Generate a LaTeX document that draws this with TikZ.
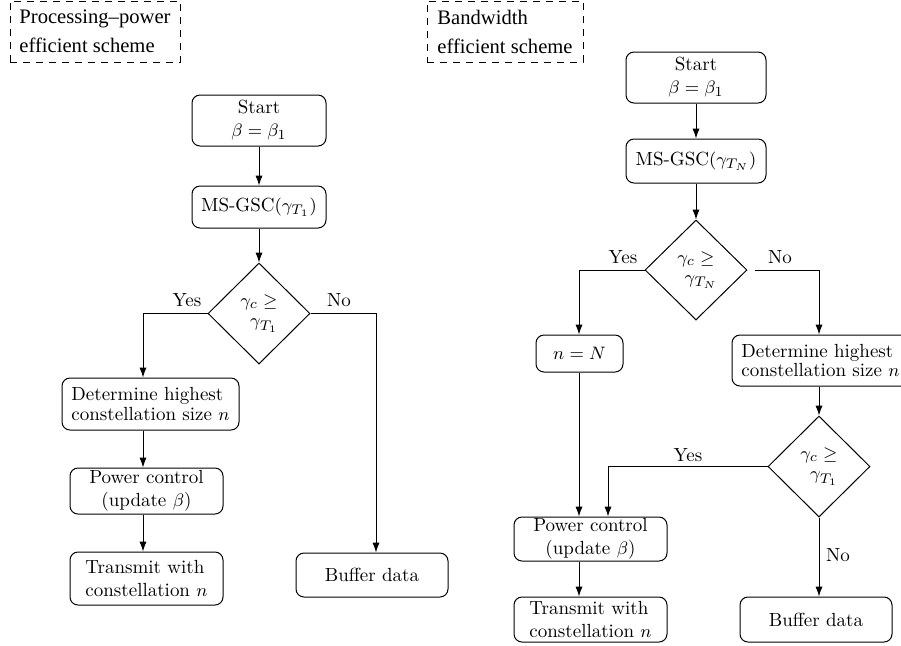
\documentclass[tikz,border=0pt]{standalone}
\usepackage{fontspec}
\newfontfamily\lblfont{Liberation Serif}
\usetikzlibrary{shapes.geometric,arrows.meta}
\begin{document}
\begin{tikzpicture}[x=0.5pt,y=-0.5pt,
 box/.style={draw,rectangle,rounded corners=4pt,line width=0.5pt,inner sep=0pt,align=center,font=\fontsize{9.5}{11.5}\selectfont},
 dec/.style={draw,diamond,aspect=1,line width=0.5pt,inner sep=0pt,align=center,font=\fontsize{9.5}{10}\selectfont},
 arr/.style={-{Latex[length=5pt,width=3.6pt]},line width=0.5pt},
 lbl/.style={font=\fontsize{9.5}{9.5}\selectfont,inner sep=0pt},
 tag/.style={draw,dash pattern=on 3.5pt off 3pt,line width=0.5pt,inner sep=0pt,align=left,font=\lblfont\fontsize{10.3}{14.5}\selectfont}]
\useasboundingbox (0,0) rectangle (901,645);
% tags
\node[tag,minimum width=85pt,minimum height=30.5pt] (t1) at (95,31.5) {Processing–power\\efficient scheme};
\node[tag,minimum width=78pt,minimum height=30.5pt] (t2) at (505,31.5) {Bandwidth\\efficient scheme};
% left chart
\node[box,minimum width=67pt,minimum height=25.5pt] (s1) at (259,120.5) {Start\\$\beta=\beta_1$};
\node[box,minimum width=67pt,minimum height=21pt] (m1) at (259,207) {MS-GSC$(\gamma_{T_1})$};
\node[dec,minimum width=51pt,minimum height=50.5pt] (d1) at (259,313.5) {$\gamma_c\geq$\\$\;\;\gamma_{T_1}$};
\node[box,align=left,font=\fontsize{9.5}{9.5}\selectfont,minimum width=88.5pt,minimum height=26pt] (det1) at (150.5,404) {Determine highest\\constellation size $n$};
\node[box,minimum width=76.5pt,minimum height=23pt] (pc1) at (146.5,491) {Power control\\(update $\beta$)};
\node[box,align=left,minimum width=76.5pt,minimum height=26.5pt] (tx1) at (146.5,578.5) {Transmit with\\constellation $n$};
\node[box,minimum width=76pt,minimum height=22pt] (bf1) at (372,575) {Buffer data};
\coordinate (y1) at (143,313.5);
\coordinate (n1) at (376,313.5);
\draw[arr] (s1) -- (m1);
\draw[arr] (m1) -- (d1);
\draw[arr] (d1.west) -- (y1) -- (y1 |- det1.north);
\draw[arr] (d1.east) -- (n1) -- (n1 |- bf1.north);
\draw[arr] (y1 |- det1.south) -- (y1 |- pc1.north);
\draw[arr] (y1 |- pc1.south) -- (y1 |- tx1.north);
\node[lbl] at (187,300) {Yes};
\node[lbl] at (339,300) {No};
% right chart
\node[box,minimum width=70pt,minimum height=25.5pt] (s2) at (696,77.5) {Start\\$\beta=\beta_1$};
\node[box,minimum width=70pt,minimum height=22pt] (m2) at (696,161) {MS-GSC$(\gamma_{T_N})$};
\node[dec,minimum width=51pt,minimum height=50pt] (d2) at (696,270) {$\gamma_c\geq$\\$\;\;\gamma_{T_N}$};
\node[box,minimum width=43.5pt,minimum height=18.5pt] (nN) at (579.5,353.5) {$n=N$};
\node[box,align=left,font=\fontsize{9.5}{9.5}\selectfont,minimum width=88.5pt,minimum height=25.5pt] (det2) at (820.5,360.5) {Determine highest\\constellation size $n$};
\node[dec,minimum width=51pt,minimum height=50.5pt] (d3) at (819,466.5) {$\gamma_c\geq$\\$\;\;\gamma_{T_1}$};
\node[box,minimum width=76.5pt,minimum height=22pt] (pc2) at (590.5,539) {Power control\\(update $\beta$)};
\node[box,align=left,minimum width=76.5pt,minimum height=22.5pt] (tx2) at (590.5,619.5) {Transmit with\\constellation $n$};
\node[box,minimum width=76pt,minimum height=22.5pt] (bf2) at (816,619.5) {Buffer data};
\coordinate (y2) at (579,270);
\coordinate (n2) at (819,270);
\coordinate (y3) at (608,466.5);
\draw[arr] (s2) -- (m2);
\draw[arr] (m2) -- (d2);
\draw[arr] (d2.west) -- (y2) -- (y2 |- nN.north);
\draw[arr,shorten <=3.5pt] (d2.east) -- (n2) -- (n2 |- det2.north);
\draw[arr] (n2 |- det2.south) -- (d3.north);
\draw[arr] (d3.west) -- (y3) -- (y3 |- pc2.north);
\draw[arr] (d3.south) -- (d3.south |- bf2.north);
\draw[arr] (y2 |- nN.south) -- (y2 |- pc2.north);
\draw[arr] (y2 |- pc2.south) -- (y2 |- tx2.north);
\node[lbl] at (623,257) {Yes};
\node[lbl] at (780,257) {No};
\node[lbl] at (688,455) {Yes};
\node[lbl] at (838,555) {No};
\end{tikzpicture}
\end{document}
